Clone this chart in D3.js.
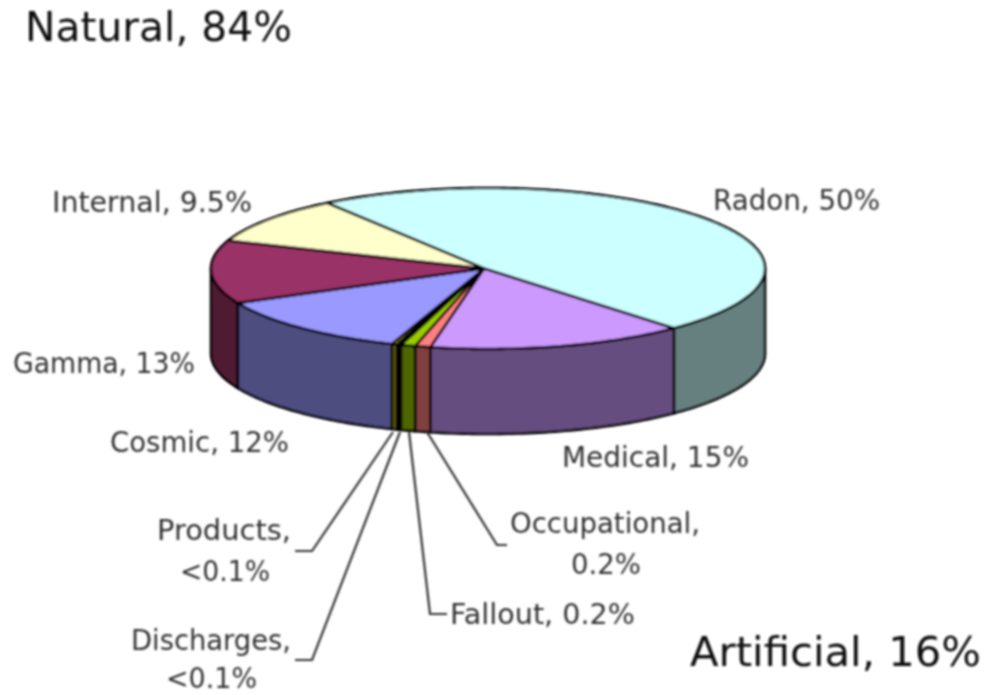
<!DOCTYPE html>
<html><head><meta charset="utf-8">
<script src="https://cdn.jsdelivr.net/npm/d3@7/dist/d3.min.js"></script>
<style>html,body{margin:0;padding:0;background:#fff}svg{display:block}</style></head>
<body><svg id="c" width="984" height="695"></svg>
<script>
// Data (slice shares as drawn in the picture; printed text kept separately)
const categories = ["Radon","Medical","Occupational","Fallout","Products","Discharges","Cosmic","Gamma","Internal"];
const drawnShares = [48.15,15.05,0.9,0.85,0.25,0.3,12.3,12.7,9.5];
const topColors  = ["#CCFFFF","#CC99FF","#FF8080","#99CC00","#000000","#CCCC00","#9999FF","#993366","#FFFFCC"];
const sideColors = ["#668080","#664D80","#804040","#4D6600","#000000","#666600","#4D4D80","#4D1A33","#808066"];
const labelLines = [["Radon, 50%"],["Medical, 15%"],["Occupational,","0.2%"],["Fallout, 0.2%"],["Products,","<0.1%"],["Discharges,","<0.1%"],["Cosmic, 12%"],["Gamma, 13%"],["Internal, 9.5%"]];
const headings = ["Natural, 84%","Artificial, 16%"];

// Layout
const cx=488, cy=268.5, rx=277, ry=80.5, depth=85, apexDx=-4, startDeg=-35.5;
const labelBoxes = [
 [[713,880,200]],[[562,749,457]],[[510,700,523],[571,641,564]],[[450,635,614]],
 [[157,291,530],[180,270,571]],[[131,291,640],[166,257,678]],[[110,289,442]],[[13,195,363]],[[52,252,202]]];
const headingBoxes=[[25,292,27],[690,981,652]];
const leaders={Occupational:[[427,432],[497,545],[507,545]],Fallout:[[409,432],[430,614],[447,614]],
 Products:[[393,432],[312,551],[295,551]],Discharges:[[400,432],[312,660],[295,660]]};

const x=d3.scaleLinear().domain([-1,1]).range([cx-rx,cx+rx]);
const y=d3.scaleLinear().domain([-1,1]).range([cy-ry,cy+ry]);
const pt=(a,dz=0)=>[x(Math.sin(a)),y(-Math.cos(a))+dz];
const rad=startDeg*Math.PI/180;
const arcs=d3.pie().sort(null).startAngle(rad).endAngle(rad+2*Math.PI)(drawnShares);
const samples=(a0,a1)=>{const n=Math.max(2,Math.ceil((a1-a0)/0.02));return d3.range(n+1).map(i=>a0+(a1-a0)*i/n);};
const line=d3.line();
const svg=d3.select("#c");
const defs=svg.append("defs");
defs.append("filter").attr("id","soft").attr("filterUnits","userSpaceOnUse")
 .attr("x",0).attr("y",0).attr("width",984).attr("height",695)
 .append("feGaussianBlur").attr("stdDeviation",0.8);
const g=svg.append("g").attr("filter","url(#soft)");

// Side walls (only the front half, angles between 90° and 270° clockwise from top)
const lo=Math.PI/2, hi=3*Math.PI/2;
const sides=[];
arcs.forEach((d,i)=>{
  for(const off of [0,2*Math.PI,-2*Math.PI]){
    const a0=Math.max(d.startAngle+off,lo), a1=Math.min(d.endAngle+off,hi);
    if(a1>a0) sides.push({i,a0,a1});
  }
});
g.append("g").selectAll("path").data(sides).join("path")
 .attr("d",s=>{const t=samples(s.a0,s.a1);return line([...t.map(a=>pt(a)),...t.slice().reverse().map(a=>pt(a,depth))])+"Z";})
 .attr("fill",s=>sideColors[s.i]).attr("stroke","#000").attr("stroke-width",2.6).attr("stroke-linejoin","round");

// Top wedges
g.append("g").selectAll("path").data(arcs).join("path")
 .attr("d",d=>line([[cx+apexDx,cy],...samples(d.startAngle,d.endAngle).map(a=>pt(a))])+"Z")
 .attr("fill",(d,i)=>topColors[i]).attr("stroke","#000").attr("stroke-width",2.6).attr("stroke-linejoin","round");

// Leaders
g.append("g").selectAll("path").data(Object.values(leaders)).join("path")
 .attr("d",line).attr("fill","none").attr("stroke","#333").attr("stroke-width",2.2);

// Labels
const put=(txt,b,size,fill)=>g.append("text").text(txt)
 .attr("x",b[0]).attr("y",b[2]).attr("dy","0.36em")
 .attr("textLength",b[1]-b[0]).attr("lengthAdjust","spacingAndGlyphs")
 .attr("font-family","'DejaVu Sans',sans-serif").attr("font-size",size).attr("fill",fill);
labelLines.forEach((lines,i)=>lines.forEach((t,j)=>put(t,labelBoxes[i][j],28,"#333")));
headings.forEach((t,i)=>put(t,headingBoxes[i],40,"#111"));
</script></body></html>
